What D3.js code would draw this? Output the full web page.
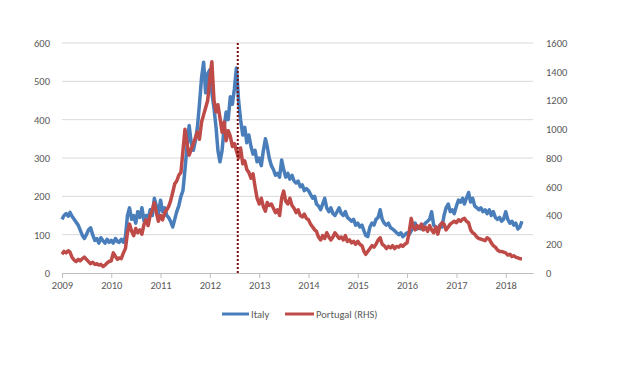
<!DOCTYPE html>
<html>
<head>
<meta charset="utf-8">
<script src="https://cdn.jsdelivr.net/npm/d3@7"></script>
<style>
  body { margin: 0; background: #fff; }
  text { font-family: Carlito, "Liberation Sans", Arial, sans-serif; fill: #595959; }
</style>
</head>
<body>
<div id="chart"></div>
<script>
// Semi-monthly readings (1st and 16th of each month), Jan 2009 - May 2018
// Italy spread, left axis
const italy = [
  140,150,155,148,158,148,140,132,125,112,98,90,100,112,118,100,85,90,78,92,84,78,88,80,          // 2009
  85,78,90,82,80,88,80,95,150,170,140,150,130,160,145,170,135,150,140,165,150,195,175,155,       // 2010
  190,160,170,150,145,135,120,140,160,175,200,215,270,330,385,340,320,345,380,440,510,550,470,520, // 2011
  530,470,430,380,320,290,320,380,420,400,460,440,480,535,450,400,360,380,340,360,330,310,320,290, // 2012
  300,280,320,350,330,300,280,270,255,260,250,295,270,250,260,245,255,240,235,240,225,230,215,220, // 2013
  215,205,195,200,180,175,165,180,195,170,160,170,155,150,160,170,155,150,160,145,140,135,140,125, // 2014
  130,120,125,110,98,95,120,130,125,140,145,165,140,130,125,130,118,115,110,105,100,105,95,100,  // 2015
  105,100,110,120,130,115,120,115,125,130,135,140,160,125,120,115,125,120,150,170,180,160,165,155, // 2016
  175,190,185,195,180,195,210,185,195,175,170,165,170,160,165,155,165,150,160,145,140,145,135,140, // 2017
  160,140,130,135,125,130,115,120,135                                                             // 2018
];

// Portugal spread, right axis
const portugal = [
  130,150,140,155,145,110,90,80,95,85,100,110,95,80,65,75,60,65,55,60,45,55,70,80,               // 2009
  85,140,115,95,105,100,140,170,280,340,290,260,310,280,300,270,340,370,330,400,440,490,420,360,  // 2010
  400,370,420,440,460,500,560,620,640,680,700,850,1000,900,820,860,900,940,980,930,1050,1100,1150,1200, // 2011
  1350,1470,1200,1120,1170,1080,980,1050,920,990,950,880,900,850,800,870,760,780,720,700,660,690,600,520, // 2012
  480,520,460,430,490,470,480,450,420,440,400,520,570,500,480,520,470,450,420,440,400,390,410,380, // 2013
  370,340,320,300,290,250,230,260,240,280,250,230,250,280,260,240,250,230,260,220,230,210,220,200, // 2014
  220,200,190,150,130,150,170,190,180,200,230,245,200,190,170,185,175,190,170,185,180,195,185,200, // 2015
  210,280,380,320,300,330,310,340,300,320,290,330,300,280,320,270,330,350,340,300,320,340,350,360, // 2016
  350,370,360,375,380,360,350,300,280,270,250,240,235,230,225,245,235,210,190,180,160,150,150,145, // 2017
  140,125,130,115,120,110,105,100,100                                                             // 2018
];

const leftTicks = [0, 100, 200, 300, 400, 500, 600];
const rightTicks = [0, 200, 400, 600, 800, 1000, 1200, 1400, 1600];
const yearTicks = [2009, 2010, 2011, 2012, 2013, 2014, 2015, 2016, 2017, 2018];
const markerDate = new Date(2012, 6, 26); // dotted line, late July 2012
const seriesNames = ["Italy", "Portugal (RHS)"];
const seriesColors = ["#4a7ebb", "#be4b48"];

const svgWidth = 626, svgHeight = 370;
const margin = { top: 43, right: 93, bottom: 97, left: 62 };
const width = svgWidth - margin.left - margin.right;
const height = svgHeight - margin.top - margin.bottom;

const dates = italy.map((d, i) => new Date(2009 + Math.floor(i / 24), Math.floor((i % 24) / 2), i % 2 ? 16 : 1));

const svg = d3.select("#chart").append("svg")
  .attr("width", svgWidth)
  .attr("height", svgHeight)
  .append("g")
  .attr("transform", "translate(" + margin.left + "," + margin.top + ")");

const x = d3.scaleTime()
  .domain([new Date(2009, 0, 1), new Date(2018, 6, 22)])
  .range([0, width]);
const yL = d3.scaleLinear().domain([0, 600]).range([height, 0]);
const yR = d3.scaleLinear().domain([0, 1600]).range([height, 0]);

// gridlines
svg.append("g")
  .selectAll("line")
  .data(leftTicks.slice(1))
  .enter().append("line")
  .attr("x1", 0).attr("x2", width)
  .attr("y1", d => yL(d)).attr("y2", d => yL(d))
  .attr("stroke", "#d9d9d9").attr("stroke-width", 1);

// left axis labels
const axL = svg.append("g")
  .call(d3.axisLeft(yL).tickValues(leftTicks).tickSize(0).tickPadding(12));
axL.select(".domain").remove();
axL.selectAll("text").style("font-size", "10.5px").attr("fill", "#595959");

// right axis labels
const axR = svg.append("g")
  .attr("transform", "translate(" + width + ",0)")
  .call(d3.axisRight(yR).tickValues(rightTicks).tickFormat(d3.format("d")).tickSize(0).tickPadding(13));
axR.select(".domain").remove();
axR.selectAll("text").style("font-size", "10.5px").attr("fill", "#595959");

// x axis
const axX = svg.append("g")
  .attr("transform", "translate(0," + height + ")")
  .call(d3.axisBottom(x)
    .tickValues(yearTicks.map(y => new Date(y, 0, 1)))
    .tickFormat(d3.timeFormat("%Y"))
    .tickSizeInner(5).tickSizeOuter(0).tickPadding(4));
axX.select(".domain").attr("stroke", "#bfbfbf");
axX.selectAll(".tick line").attr("stroke", "#bfbfbf");
axX.selectAll("text").style("font-size", "10.5px").attr("fill", "#595959");

// series
const lineL = d3.line().x((d, i) => x(dates[i])).y(d => yL(d));
const lineR = d3.line().x((d, i) => x(dates[i])).y(d => yR(d));

svg.append("path")
  .datum(italy)
  .attr("fill", "none")
  .attr("stroke", seriesColors[0])
  .attr("stroke-width", 3.5)
  .attr("stroke-linejoin", "round")
  .attr("d", lineL);

svg.append("path")
  .datum(portugal)
  .attr("fill", "none")
  .attr("stroke", seriesColors[1])
  .attr("stroke-width", 3.5)
  .attr("stroke-linejoin", "round")
  .attr("d", lineR);

// dotted marker
svg.append("line")
  .attr("x1", x(markerDate)).attr("x2", x(markerDate))
  .attr("y1", 0).attr("y2", height)
  .attr("stroke", "#7b0a0a")
  .attr("stroke-width", 2)
  .attr("stroke-dasharray", "2,2");

// legend
const legend = svg.append("g")
  .attr("transform", "translate(0," + (height + 41) + ")");
const legendX = [160, 223];
const legendW = [27, 29];
seriesNames.forEach((name, i) => {
  legend.append("line")
    .attr("x1", legendX[i]).attr("x2", legendX[i] + legendW[i])
    .attr("y1", 0).attr("y2", 0)
    .attr("stroke", seriesColors[i])
    .attr("stroke-width", 3);
  legend.append("text")
    .attr("x", legendX[i] + legendW[i] + 2)
    .attr("y", 4)
    .style("font-size", "10.5px")
    .text(name);
});
</script>
</body>
</html>
